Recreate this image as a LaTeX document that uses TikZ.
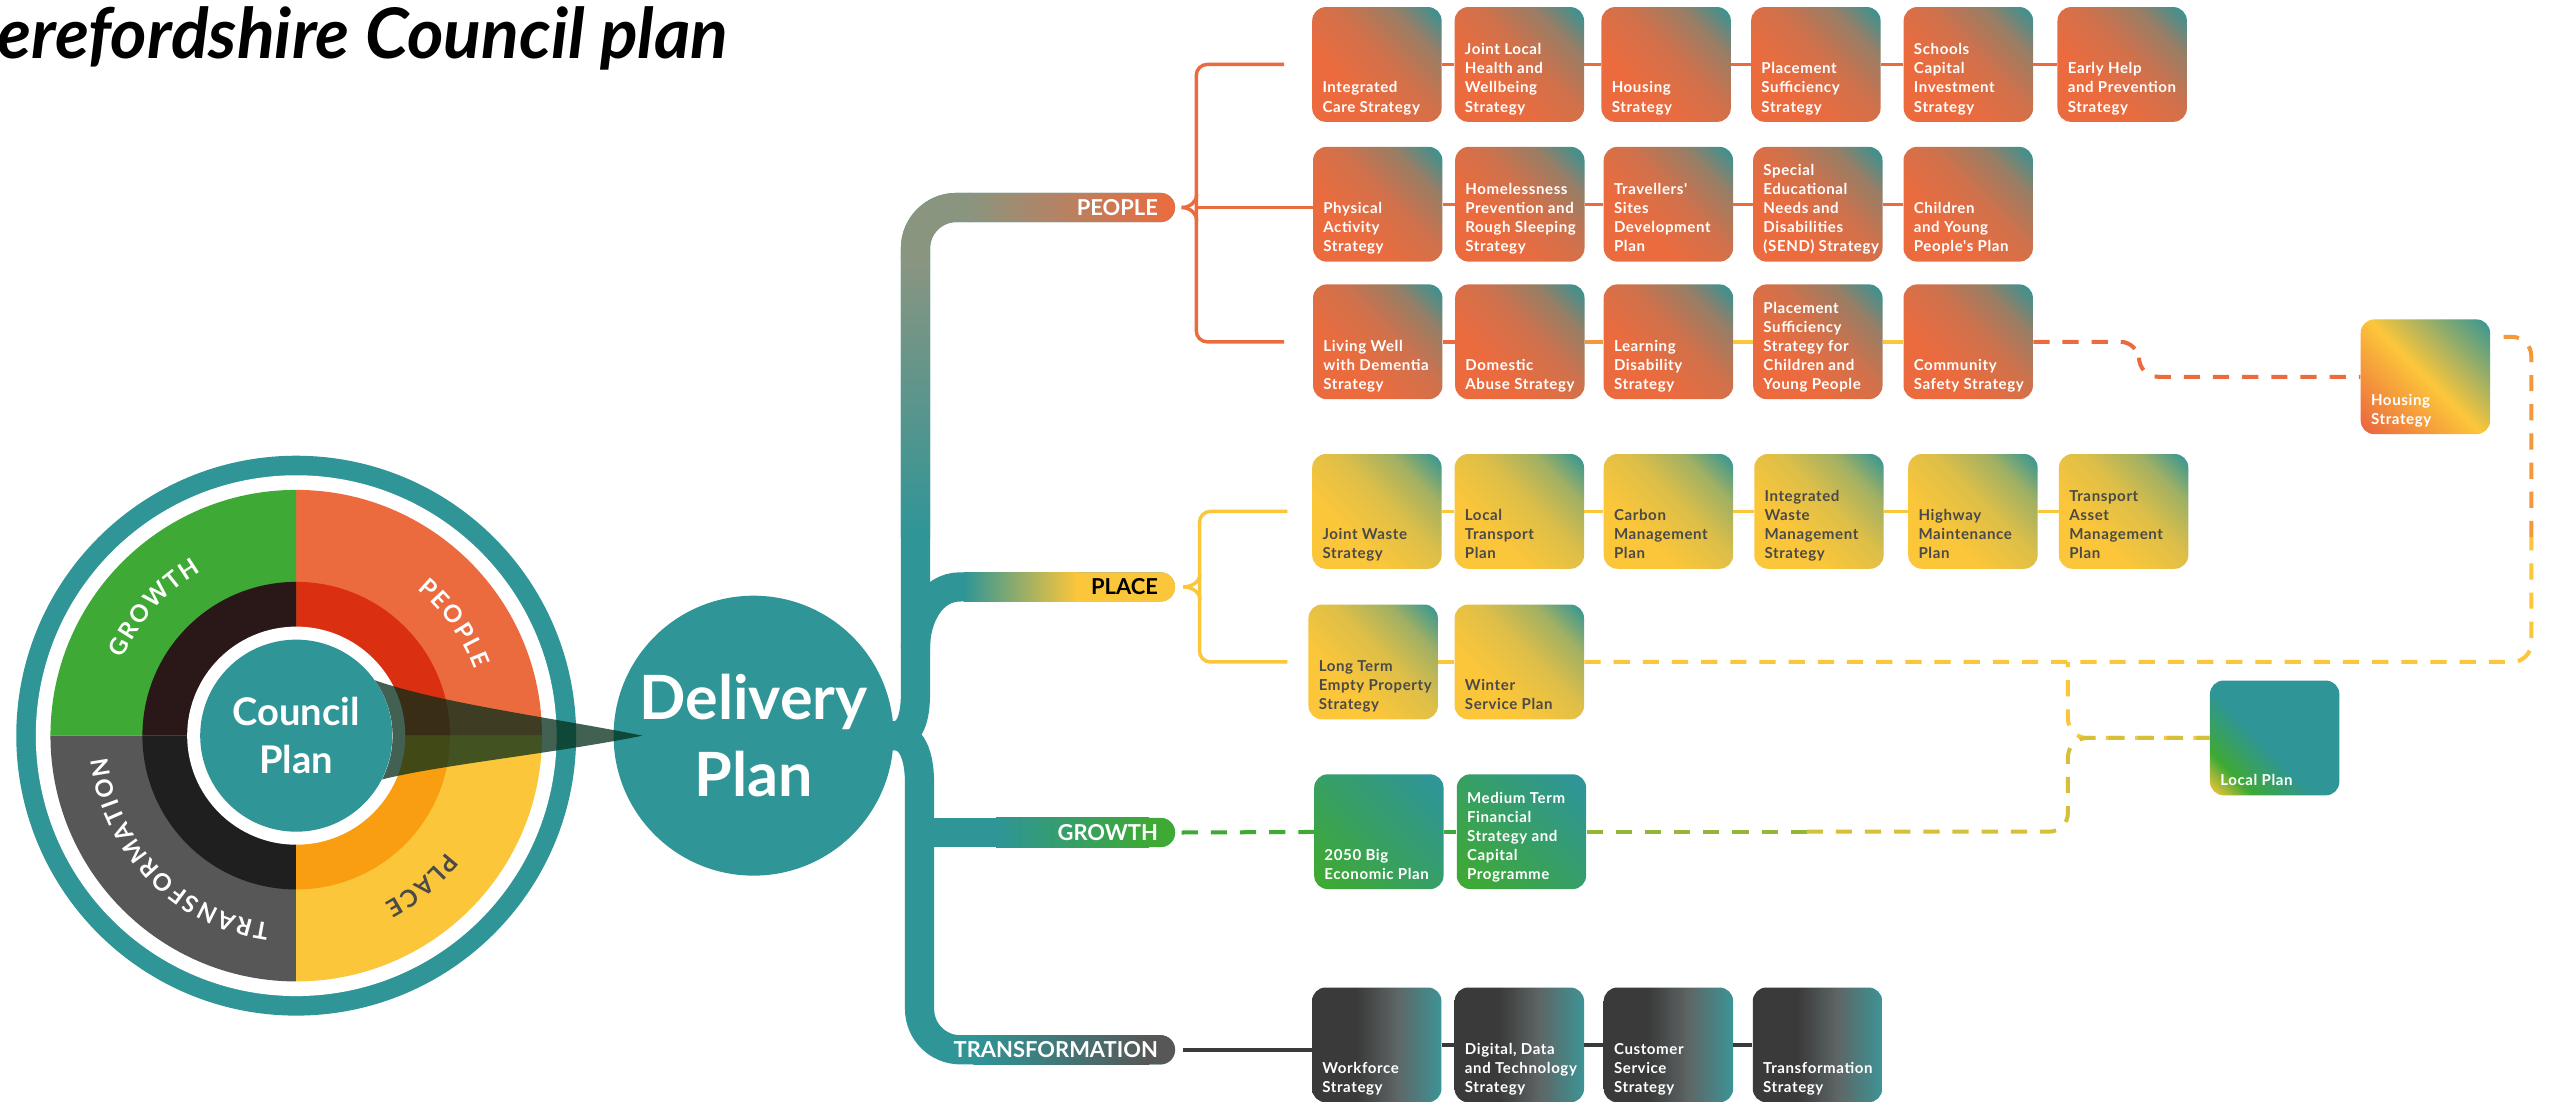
\documentclass[tikz,border=0pt]{standalone}
\usepackage{fontspec}
\setmainfont{Lato}
\newfontfamily\planfamily{Lato}[LetterSpace=4]
\usepackage{xcolor}
\usetikzlibrary{calc}

\definecolor{hcteal}{RGB}{47,149,151}
\definecolor{hcorange}{RGB}{236,107,62}
\definecolor{hcred}{RGB}{218,47,16}
\definecolor{hcgreen}{RGB}{62,169,53}
\definecolor{hcdark}{RGB}{42,24,24}
\definecolor{hcgray}{RGB}{87,87,87}
\definecolor{hcblack}{RGB}{31,31,31}
\definecolor{hcyellow}{RGB}{252,198,58}
\definecolor{hcamber}{RGB}{248,158,16}
\definecolor{hcsage}{RGB}{138,149,128}
\definecolor{hcink}{RGB}{74,74,74}
\definecolor{hcwedge}{RGB}{5,45,25}
\definecolor{hccharcoal}{RGB}{58,58,58}
\definecolor{hcslate}{RGB}{94,102,102}
\definecolor{hcsea}{RGB}{61,148,150}
\colorlet{hcpeach}{hcorange!50!hcyellow}
\colorlet{hclime}{hcgreen!55!hcyellow}
\colorlet{hcolive}{hcyellow!80!hcgreen}
\colorlet{hctan}{hcorange!85!hcteal}
\colorlet{hcbrown}{hcorange!55!hcteal}
\colorlet{hcstraw}{hcyellow!85!hcteal}
\colorlet{hcmoss}{hcyellow!55!hcteal}

\pgfdeclarehorizontalshading{peopleshade}{100bp}{color(0bp)=(hcorange); color(35bp)=(hcorange); color(55bp)=(hctan); color(71bp)=(hcbrown); color(85bp)=(hcteal); color(100bp)=(hcteal)}
\pgfdeclarehorizontalshading{placeshade}{100bp}{color(0bp)=(hcyellow); color(35bp)=(hcyellow); color(55bp)=(hcstraw); color(71bp)=(hcmoss); color(85bp)=(hcteal); color(100bp)=(hcteal)}
\pgfdeclarehorizontalshading{growthshade}{100bp}{color(0bp)=(hcgreen); color(20bp)=(hcgreen); color(80bp)=(hcteal); color(100bp)=(hcteal)}
\pgfdeclarehorizontalshading{transshade}{100bp}{color(0bp)=(hccharcoal); color(42bp)=(hccharcoal); color(58bp)=(hcslate); color(75bp)=(hcsea); color(100bp)=(hcsea)}
\pgfdeclarehorizontalshading{housingshade}{100bp}{color(0bp)=(hcorange); color(18bp)=(hcorange); color(50bp)=(hcyellow); color(86bp)=(hcteal); color(100bp)=(hcteal)}
\pgfdeclarehorizontalshading{localshade}{100bp}{color(0bp)=(hcyellow); color(15bp)=(hcyellow); color(27bp)=(hcgreen); color(45bp)=(hcteal); color(100bp)=(hcteal)}

\newcommand{\planfont}{\planfamily\fontsize{7.9}{10}\selectfont\bfseries}
\newcommand{\branchfont}{\fontsize{11.5}{13}\selectfont\bfseries}
\newcommand{\wheelfont}{\fontsize{12.5}{14}\selectfont\bfseries}
% box text sits in the lower left corner
\newcommand{\planlines}[1]{\begin{minipage}[b][18.6mm][b]{20.05mm}\begin{tabular}[b]{@{}l@{}}#1\end{tabular}\end{minipage}}

\begin{document}
\begin{tikzpicture}[x=0.3mm, y=0.3mm]
    \tikzstyle{planbox} = [rectangle, rounded corners=2.5mm, minimum width=23.85mm, minimum height=21.15mm,
                           inner xsep=1.9mm, inner ysep=0.75mm, font=\planfont]
    \tikzstyle{peoplebox} = [planbox, shading=peopleshade, shading angle=45, text=white]
    \tikzstyle{placebox} = [planbox, shading=placeshade, shading angle=45, text=hcink]
    \tikzstyle{growthbox} = [planbox, shading=growthshade, shading angle=45, text=white]
    \tikzstyle{transbox} = [planbox, shading=transshade, text=white]
    \tikzstyle{trunk} = [line width=15.3pt, hcteal, line cap=round]
    \tikzstyle{rowline} = [line width=1.8pt]
    \tikzstyle{brace} = [line width=1.8pt, rounded corners=2mm]
    \tikzstyle{dashline} = [line width=2.1pt, dash pattern=on 8.5pt off 6.8pt, rounded corners=3.5mm]
    \tikzstyle{branchlabel} = [anchor=east, inner xsep=3.1mm, inner ysep=0pt, font=\branchfont]
    \tikzstyle{wheelletter} = [inner sep=0pt, font=\wheelfont]

    \fill[white] (0,0) rectangle (1568,-676.5);
    \useasboundingbox (0,0) rectangle (1568,-676.5);

    % Title
    \node[anchor=base west, inner sep=0pt, font=\fontsize{36.6}{42}\selectfont\bfseries\itshape] (title) at (-2,-36) {erefordshire Council plan};

    % Council plan wheel
    \coordinate (wc) at (182,-452);
    \fill[hcteal] (wc) circle[radius=172];
    \fill[white] (wc) circle[radius=160];
    \foreach \a/\outer/\inner in {0/hcorange/hcred, 90/hcgreen/hcdark, 180/hcgray/hcblack, 270/hcyellow/hcamber} {
        \fill[\outer] (wc) -- ++(\a:151) arc[start angle=\a, delta angle=90, radius=151] -- cycle;
        \fill[\inner] (wc) -- ++(\a:94.5) arc[start angle=\a, delta angle=90, radius=94.5] -- cycle;
    }
    \fill[white] (wc) circle[radius=67];
    \node[circle, fill=hcteal, minimum size=35.4mm, inner sep=0pt, text=white, align=center,
          font=\fontsize{20}{25}\selectfont\bfseries] (cp) at (wc) {Council\\Plan};

    \foreach \ch/\ang [count=\i] in {G/153.6, R/147.91, O/142.05, W/134.91, T/128.5, H/122.92}
        \node[wheelletter, text=white, rotate=\ang-90] (wg\i) at ($(wc)+(\ang:122)$) {\ch};
    \foreach \ch/\ang [count=\i] in {P/48.2, E/43.23, O/37.68, P/31.89, L/27.1, E/22.55}
        \node[wheelletter, text=white, rotate=\ang-90] (wp\i) at ($(wc)+(\ang:122)$) {\ch};
    \foreach \ch/\ang [count=\i] in {P/-40, L/-44.64, A/-49.56, C/-55.06, E/-60.05}
        \node[wheelletter, text=hcink, rotate=\ang-90] (wl\i) at ($(wc)+(\ang:122)$) {\ch};
    \foreach \ch/\ang [count=\i] in {T/259.8, R/254.72, A/249.23, N/243.29, S/237.94, F/233.35, O/227.86,
                                      R/222.06, M/215.81, A/209.32, T/204.0, I/200.13, O/195.54, N/189.29}
        \node[wheelletter, text=white, rotate=\ang-90] (wt\i) at ($(wc)+(\ang:122)$) {\ch};

    % Delivery plan
    \node[circle, fill=hcteal, minimum size=51.6mm, inner sep=0pt, text=white, align=center,
          font=\fontsize{32}{40}\selectfont\bfseries] (dp) at (463,-452) {Delivery\\Plan};

    % Branch ends
    \coordinate (epeople) at (722,-127.5);
    \coordinate (eplace) at (722,-360.6);
    \coordinate (egrowth) at (722,-511.5);
    \coordinate (etrans) at (722,-645);

    % Trunk
    \draw[trunk] (dp.east) to[out=0,in=-90] (562.5,-425) [rounded corners=7.5mm] -- (562.5,-127.5) -- ($(epeople)+(-9,0)$);
    \draw[trunk] (dp.east) to[out=0,in=90] (565,-482) [rounded corners=7.5mm] -- (565,-645) -- ($(etrans)+(-9,0)$);
    \draw[trunk] (562.5,-398) to[out=90,in=180] (590,-360.6) -- ($(eplace)+(-9,0)$);
    \draw[trunk] (565,-511.5) -- ($(egrowth)+(-9,0)$);

    % Branch colouring
    \shade[top color=hcsage, bottom color=hcteal] (553.5,-158) rectangle (571.5,-330);
    \draw[line width=15.3pt, hcsage, rounded corners=7.5mm] (562.5,-160) -- (562.5,-127.5) -- (596,-127.5);
    \shade[left color=hcsage, right color=hcorange] (595,-118.5) -- ($(epeople)+(-9,9)$) arc[start angle=90, end angle=-90, radius=9] -- (595,-136.5) -- cycle;
    \shade[left color=hcteal, right color=hcyellow] (592,-351.6) rectangle (662,-369.6);
    \fill[hcyellow] (661,-351.6) -- ($(eplace)+(-9,9)$) arc[start angle=90, end angle=-90, radius=9] -- (661,-369.6) -- cycle;
    \shade[left color=hcteal, right color=hcgreen] (612,-502.5) rectangle (706,-520.5);
    \fill[hcgreen] (705,-502.5) -- ($(egrowth)+(-9,9)$) arc[start angle=90, end angle=-90, radius=9] -- (705,-520.5) -- cycle;
    \shade[left color=hcteal, right color=hcgray] (598,-636) rectangle (706,-654);
    \fill[hcgray] (705,-636) -- ($(etrans)+(-9,9)$) arc[start angle=90, end angle=-90, radius=9] -- (705,-654) -- cycle;

    \node[branchlabel, text=white] (lpeople) at (epeople) {PEOPLE};
    \node[branchlabel, text=black] (lplace) at (eplace) {PLACE};
    \node[branchlabel, text=white] (lgrowth) at (egrowth) {GROWTH};
    \node[branchlabel, text=white] (ltrans) at (etrans) {TRANSFORMATION};

    % Beam from the wheel
    \fill[hcwedge, opacity=0.75] (cp.35) .. controls (270,-432) and (340,-441) .. ($(dp.west)+(18,0)$)
        .. controls (340,-463) and (270,-470) .. (cp.-27) arc[start angle=-27, end angle=35, radius=59] -- cycle;

    % People
    \node[peoplebox] (p11) at (846,-39.6) {\planlines{Integrated\\Care Strategy}};
    \node[peoplebox] (p12) at (933.5,-39.6) {\planlines{Joint Local\\Health and\\Wellbeing\\Strategy}};
    \node[peoplebox] (p13) at (1023.7,-39.6) {\planlines{Housing\\Strategy}};
    \node[peoplebox] (p14) at (1115.7,-39.6) {\planlines{Placement\\Sufficiency\\Strategy}};
    \node[peoplebox] (p15) at (1209.4,-39.6) {\planlines{Schools\\Capital\\Investment\\Strategy}};
    \node[peoplebox] (p16) at (1303.9,-39.6) {\planlines{Early Help\\and Prevention\\Strategy}};

    \node[peoplebox] (p21) at (846.5,-125.5) {\planlines{Physical\\Activity\\Strategy}};
    \node[peoplebox] (p22) at (933.8,-125.5) {\planlines{Homelessness\\Prevention and\\Rough Sleeping\\Strategy}};
    \node[peoplebox] (p23) at (1025.1,-125.5) {\planlines{Travellers'\\Sites\\Development\\Plan}};
    \node[peoplebox] (p24) at (1116.9,-125.5) {\planlines{Special\\Educational\\Needs and\\Disabilities\\(SEND) Strategy}};
    \node[peoplebox] (p25) at (1209.3,-125.5) {\planlines{Children\\and Young\\People's Plan}};

    \node[peoplebox] (p31) at (846.5,-210) {\planlines{Living Well\\with Dementia\\Strategy}};
    \node[peoplebox] (p32) at (933.8,-210) {\planlines{Domestic\\Abuse Strategy}};
    \node[peoplebox] (p33) at (1025.1,-210) {\planlines{Learning\\Disability\\Strategy}};
    \node[peoplebox] (p34) at (1116.9,-210) {\planlines{Placement\\Sufficiency\\Strategy for\\Children and\\Young People}};
    \node[peoplebox] (p35) at (1209.3,-210) {\planlines{Community\\Safety Strategy}};

    \node[planbox, shading=housingshade, shading angle=45, text=white] (hs) at (1490.2,-231.5) {\planlines{Housing\\Strategy}};

    % Place
    \node[placebox] (q11) at (846,-314.2) {\planlines{Joint Waste\\Strategy}};
    \node[placebox] (q12) at (933.5,-314.2) {\planlines{Local\\Transport\\Plan}};
    \node[placebox] (q13) at (1025.1,-314.2) {\planlines{Carbon\\Management\\Plan}};
    \node[placebox] (q14) at (1117.6,-314.2) {\planlines{Integrated\\Waste\\Management\\Strategy}};
    \node[placebox] (q15) at (1212.2,-314.2) {\planlines{Highway\\Maintenance\\Plan}};
    \node[placebox] (q16) at (1304.8,-314.2) {\planlines{Transport\\Asset\\Management\\Plan}};
    \node[placebox] (q21) at (843.7,-406.7) {\planlines{Long Term\\Empty Property\\Strategy}};
    \node[placebox] (q22) at (933.5,-406.7) {\planlines{Winter\\Service Plan}};

    \node[planbox, shading=localshade, shading angle=45, text=white] (lp) at (1397.6,-453.4) {\planlines{Local Plan}};

    % Growth
    \node[growthbox] (g1) at (847.2,-511) {\planlines{2050 Big\\Economic Plan}};
    \node[growthbox] (g2) at (934.8,-511) {\planlines{Medium Term\\Financial\\Strategy and\\Capital\\Programme}};

    % Transformation
    \node[transbox] (t1) at (845.9,-642) {\planlines{Workforce\\Strategy}};
    \node[transbox] (t2) at (933.5,-642) {\planlines{Digital, Data\\and Technology\\Strategy}};
    \node[transbox] (t3) at (1025.1,-642) {\planlines{Customer\\Service\\Strategy}};
    \node[transbox] (t4) at (1116.7,-642) {\planlines{Transformation\\Strategy}};

    % Braces
    \draw[brace, hcorange] ($(p11.west)+(-17,0)$) -- ++(-54,0) |- ($(p31.west)+(-17.5,0)$);
    \draw[brace, hcorange] ($(lpeople.east)+(4,0)$) to[out=0,in=-90] ++(9.25,8);
    \draw[brace, hcorange] ($(lpeople.east)+(4,0)$) to[out=0,in=90] ++(9.25,-8);
    \draw[brace, hcorange] ($(lpeople.east)+(13.25,0)$) -- (lpeople.east -| p21.west);
    \draw[brace, hcyellow] ($(q11.west)+(-15,0)$) -- ++(-54,0) |- ($(q21.west)+(-12.7,0)$);
    \draw[brace, hcyellow] ($(lplace.east)+(5,0)$) to[out=0,in=-90] ++(10.25,8);
    \draw[brace, hcyellow] ($(lplace.east)+(5,0)$) to[out=0,in=90] ++(10.25,-8);

    % Row links
    \draw[rowline, hcorange] (p11) -- (p12) -- (p13) -- (p14) -- (p15) -- (p16);
    \draw[rowline, hcorange] (p21) -- (p22) -- (p23) -- (p24) -- (p25);
    \draw[rowline, hcorange] (p31) -- (p32);
    \draw[rowline, hcpeach] (p32) -- (p33);
    \draw[rowline, hcyellow] (p33) -- (p34) -- (p35);
    \draw[rowline, hcyellow] (q11) -- (q12) -- (q13) -- (q14) -- (q15) -- (q16);
    \draw[rowline, hcyellow] (q21) -- (q22);
    \draw[rowline, hccharcoal] ($(ltrans.east)+(4.6,0)$) -- (t1.west |- ltrans.east);
    \draw[rowline, hccharcoal] (t1) -- (t2) -- (t3) -- (t4);

    % Cross links
    \coordinate (jplace) at (1270.6,-406.7);
    \coordinate (jlocal) at (1270.6,-453.4);
    \coordinate (jright) at (1555.25,-330);
    \coordinate (gmid) at (1110,-511);
    \draw[dashline, hcorange] (p35.east) -- ++(65,0) |- (hs);
    \draw[dashline, hcyellow] (q22) -| (jright);
    \draw[dashline, hcpeach] (jright) |- ($(hs.north east)+(8,-11)$);
    \draw[dashline, hcyellow] (lp) -| (jplace);
    \draw[dashline, hcgreen] ($(lgrowth.east)+(4,0)$) -- (g1);
    \draw[dashline, hcgreen] (g1) -- (g2);
    \draw[dashline, hclime] (g2) -- (gmid);
    \draw[dashline, hcolive] (gmid) -| (jlocal) -- (lp);
\end{tikzpicture}
\end{document}
